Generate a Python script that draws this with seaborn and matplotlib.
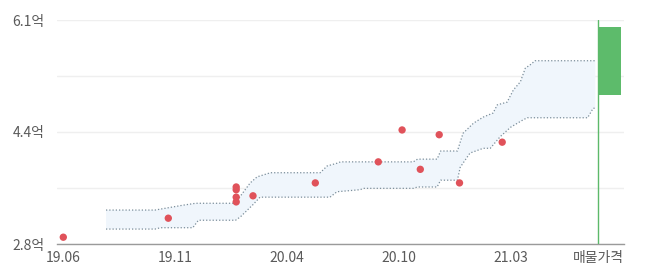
import numpy as np
import pandas as pd
import matplotlib
matplotlib.use("Agg")
import matplotlib.pyplot as plt
import matplotlib.dates as mdates
import seaborn as sns

# ---- data (price in 억) ----
deal_dates = ["2019-06-15", "2019-11-12", "2020-02-17", "2020-02-17", "2020-02-17",
              "2020-02-17", "2020-03-12", "2020-06-09", "2020-09-07", "2020-10-11",
              "2020-11-06", "2020-12-03", "2021-01-01", "2021-03-03"]
deal_prices = [2.90, 3.18, 3.64, 3.60, 3.49, 3.42, 3.51, 3.70, 4.01, 4.48,
               3.90, 4.41, 3.70, 4.30]

upper_dates = ["2019-08-15", "2019-10-24", "2019-12-02", "2019-12-21", "2020-02-16",
               "2020-02-19", "2020-03-08", "2020-03-18", "2020-04-06", "2020-06-16",
               "2020-06-26", "2020-07-10", "2020-07-15", "2020-10-27", "2020-11-02",
               "2020-11-30", "2020-12-05", "2020-12-29", "2021-01-06", "2021-01-21",
               "2021-02-04", "2021-02-18", "2021-02-24", "2021-03-10", "2021-03-19",
               "2021-03-29", "2021-04-05", "2021-04-12", "2021-04-19", "2021-07-14"]
upper_prices = [3.30, 3.30, 3.37, 3.40, 3.40, 3.45, 3.70, 3.79, 3.85, 3.85,
                3.95, 3.99, 4.01, 4.01, 4.05, 4.05, 4.17, 4.17, 4.43, 4.58,
                4.67, 4.73, 4.85, 4.89, 5.07, 5.19, 5.39, 5.44, 5.50, 5.50]

lower_dates = ["2019-08-15", "2019-10-24", "2019-11-01", "2019-12-17", "2019-12-25",
               "2020-02-16", "2020-02-23", "2020-03-12", "2020-03-22", "2020-06-30",
               "2020-07-10", "2020-08-12", "2020-08-17", "2020-10-27", "2020-11-02",
               "2020-11-30", "2020-12-05", "2020-12-29", "2021-01-02", "2021-01-16",
               "2021-02-04", "2021-02-14", "2021-02-28", "2021-03-15", "2021-04-02",
               "2021-04-08", "2021-07-03", "2021-07-11", "2021-07-14"]
lower_prices = [3.02, 3.02, 3.04, 3.04, 3.15, 3.15, 3.20, 3.38, 3.49, 3.49,
                3.57, 3.60, 3.62, 3.62, 3.64, 3.64, 3.74, 3.74, 3.93, 4.14,
                4.21, 4.21, 4.38, 4.52, 4.63, 4.66, 4.66, 4.80, 4.80]

listing_date = "2021-07-18"
listing_end = "2021-08-19"
listing_low, listing_high = 5.0, 6.0

tick_dates = ["2019-06-15", "2019-11-22", "2020-04-30", "2020-10-07", "2021-03-16"]
tick_labels = ["19.06", "19.11", "20.04", "20.10", "21.03"]
listing_label = "매물가격"
y_ticks = [2.8, 4.45, 6.1]
y_labels = ["2.8억", "4.4억", "6.1억"]
y_minor = [3.625, 5.275]

# ---- style ----
sns.set_theme(style="white")
plt.rcParams['font.family'] = ['Noto Sans CJK KR', 'DejaVu Sans']

fig = plt.figure(figsize=(6.57, 2.80), dpi=100)
ax = fig.add_axes([57/657, 1-244/280, (624-57)/657, (244-20)/280])

deals = pd.DataFrame({"date": pd.to_datetime(deal_dates), "price": deal_prices})
upper = pd.DataFrame({"date": pd.to_datetime(upper_dates), "price": upper_prices})
lower = pd.DataFrame({"date": pd.to_datetime(lower_dates), "price": lower_prices})

# band fill
poly_x = np.concatenate([mdates.date2num(upper["date"]), mdates.date2num(lower["date"])[::-1]])
poly_y = np.concatenate([upper["price"].values, lower["price"].values[::-1]])
ax.fill(poly_x, poly_y, color="#f0f6fc", lw=0, zorder=1)

for band in (upper, lower):
    sns.lineplot(data=band, x="date", y="price", ax=ax, sort=False, estimator=None,
                 color="#7b8e9b", lw=0.9, linestyle=(0, (1, 1.6)), zorder=2)

sns.scatterplot(data=deals, x="date", y="price", ax=ax, color="#e0525a",
                s=28, edgecolor="none", zorder=4)

# listing price range
ld = pd.Timestamp(listing_date)
le = pd.Timestamp(listing_end)
ax.fill_between([ld, le], listing_low, listing_high, color="#5dbb6b", lw=0, zorder=3)
ax.axvline(ld, color="#5cb96a", lw=1.0, zorder=3)

# grid
for v in y_ticks + y_minor:
    ax.axhline(v, color="#efefef", lw=1.0, zorder=0)

ax.set_ylim(2.8, 6.1)
ax.set_xlim(pd.Timestamp("2019-06-06"), pd.Timestamp("2021-08-24"))

ax.set_yticks(y_ticks)
ax.set_yticklabels(y_labels)
xt = list(pd.to_datetime(tick_dates)) + [ld]
ax.set_xticks(xt)
ax.set_xticklabels(tick_labels + [listing_label])
ax.tick_params(axis="both", length=0, labelsize=10, labelcolor="#5a5a5a")
ax.tick_params(axis="y", pad=9)
ax.tick_params(axis="x", pad=5)
ax.set_xlabel("")
ax.set_ylabel("")

for s in ["top", "right", "left"]:
    ax.spines[s].set_visible(False)
ax.spines["bottom"].set_color("#9a9a9a")
ax.spines["bottom"].set_linewidth(1.0)

fig.savefig("out.png", dpi=100)
